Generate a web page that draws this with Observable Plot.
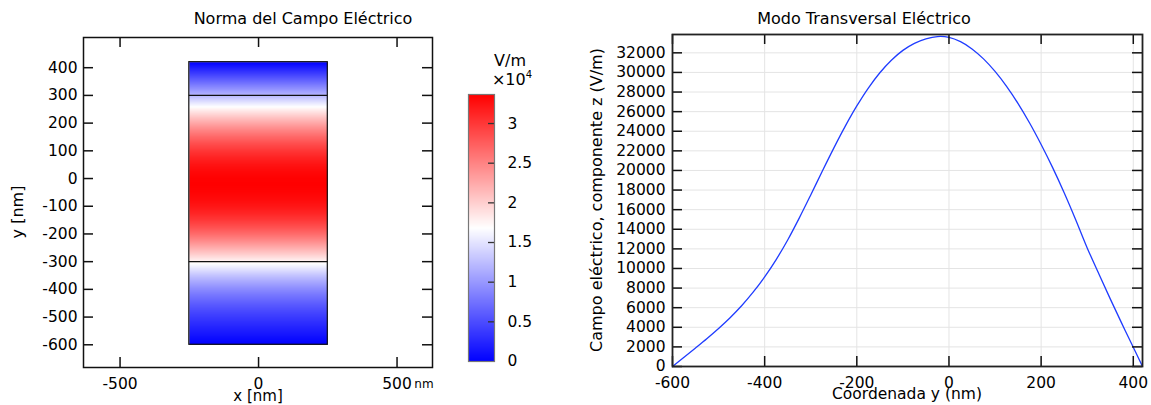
<!DOCTYPE html>
<html><head><meta charset="utf-8">
<script src="https://cdn.jsdelivr.net/npm/d3@7"></script>
<script src="https://cdn.jsdelivr.net/npm/@observablehq/plot@0.6"></script>
<style>
body{margin:0;background:#fff;}
#root{position:relative;width:1151px;height:405px;font-family:"DejaVu Sans",sans-serif;color:#000;overflow:hidden;background:#fff}
.p{position:absolute;top:0}
.t{position:absolute;white-space:nowrap;font-size:16px;line-height:1;transform:translate(-50%,-50%)}
.r{transform:translate(-50%,-50%) rotate(-90deg)}
</style></head><body><div id="root"></div>
<script>
// ---- data ----
const yCoord = [-600,-575,-550,-525,-500,-475,-450,-425,-400,-375,-350,-325,-300,-275,-250,-225,-200,-175,-150,-125,-100,-75,-50,-25,0,25,50,75,100,125,150,175,200,225,250,275,300,325,350,375,400,420];
const ezValues = [0,940,1890,2860,3880,4980,6200,7580,9140,10910,12910,15140,17500,19920,22280,24520,26580,28410,29970,31250,32250,32970,33430,33660,33580,33140,32400,31380,30100,28580,26820,24840,22650,20290,17730,14980,12100,9480,6900,4400,1960,0];
const coreX = [-250, 250];          // waveguide width (nm)
const regionY = [-600, 420];        // waveguide extent (nm)
const interfaceY = [-300, 300];     // layer interfaces (nm)
const leftXTicks = [-500, 0, 500];
const leftYTicks = [-600,-500,-400,-300,-200,-100,0,100,200,300,400];
const rightXTicks = [-600,-400,-200,0,200,400];
const rightYTicks = [0,2000,4000,6000,8000,10000,12000,14000,16000,18000,20000,22000,24000,26000,28000,30000,32000];
const cbTicks = [0,5000,10000,15000,20000,25000,30000];

const vmax = d3.max(ezValues);
const fmt = d => String(d);
const colorScale = {type:"linear", domain:[0, vmax/2, vmax], range:["#0000ff","#ffffff","#ff0000"], clamp:true};
const tickStroke = "#111";

const root = document.getElementById("root");
function place(svg, left){ const d=document.createElement("div"); d.className="p"; d.style.left=left+"px"; d.appendChild(svg); root.appendChild(d); }
function text(html, x, y, cls="", size=16){ const d=document.createElement("div"); d.className="t "+cls; d.style.left=x+"px"; d.style.top=y+"px"; d.style.fontSize=size+"px"; d.innerHTML=html; root.appendChild(d); }

// ---- left: field norm map ----
const pts = [];
yCoord.forEach((y,i)=>{ coreX.forEach(x=>pts.push({x, y, v: ezValues[i]})); });
const lw = 440, lh = 405, lml = 83, lmr = 8, lmt = 37, lmb = 38;
const lfw = lw-lml-lmr, lfh = lh-lmt-lmb;
const fieldMark = Plot.raster
  ? Plot.raster(pts, {x:"x", y:"y", fill:"v", x1:coreX[0], x2:coreX[1], y1:regionY[0], y2:regionY[1], interpolate:"barycentric", pixelSize:1})
  : Plot.rect(yCoord.slice(1).map((y,i)=>({y1:yCoord[i], y2:y, v:(ezValues[i]+ezValues[i+1])/2})), {x1:coreX[0], x2:coreX[1], y1:"y1", y2:"y2", fill:"v"});
const left = Plot.plot({
  width: lw, height: lh, marginLeft: lml, marginRight: lmr, marginTop: lmt, marginBottom: lmb,
  x: {domain:[-632, 628]}, y: {domain:[-682, 509]},
  color: colorScale,
  style: {fontFamily:"DejaVu Sans", fontSize:"15.5px", color:"#000", background:"transparent"},
  marks: [
    fieldMark,
    Plot.rect([0], {x1:coreX[0], x2:coreX[1], y1:regionY[0], y2:regionY[1], fill:"none", stroke:"#111", strokeWidth:1.2}),
    Plot.ruleY(interfaceY, {x1:coreX[0], x2:coreX[1], stroke:"#111", strokeWidth:1.2}),
    Plot.axisX(leftXTicks, {tickSize:0, tickPadding:10, tickFormat:fmt, label:null}),
    Plot.axisY(leftYTicks, {tickSize:0, tickPadding:6, tickFormat:fmt, label:null}),
    Plot.ruleX(leftXTicks, {insetTop: lfh-10, stroke:tickStroke, strokeWidth:1.5}),
    Plot.ruleX(leftXTicks, {insetBottom: lfh-10, stroke:tickStroke, strokeWidth:1.5}),
    Plot.ruleY(leftYTicks, {insetRight: lfw-10, stroke:tickStroke, strokeWidth:1.5}),
    Plot.ruleY(leftYTicks, {insetLeft: lfw-10, stroke:tickStroke, strokeWidth:1.5}),
    Plot.frame({stroke:"#111", strokeWidth:1.5})
  ]
});
place(left, 0);

// ---- colorbar ----
const cb = Plot.plot({
  width: 100, height: 405, marginLeft: 13, marginRight: 61, marginTop: 94, marginBottom: 44,
  x: {domain:[0,1], axis:null}, y: {domain:[0, vmax]},
  color: colorScale,
  style: {fontFamily:"DejaVu Sans", fontSize:"15.5px", color:"#000", background:"transparent"},
  marks: [
    Plot.raster({fill:(x,y)=>y, x1:0, x2:1, y1:0, y2:vmax, pixelSize:1}),
    Plot.ruleY(cbTicks.slice(1), {insetLeft:20, stroke:"#333", strokeWidth:1.3}),
    Plot.axisY(cbTicks, {anchor:"right", tickSize:0, tickPadding:13, tickFormat:d=>String(d/1e4), label:null}),
    Plot.frame({stroke:"#777", strokeWidth:1.2})
  ]
});
place(cb, 455);

// ---- right: Ez profile ----
const rw = 571, rml = 92, rmr = 9, rmt = 34, rmb = 39;
const rfw = rw-rml-rmr, rfh = 405-rmt-rmb;
const right = Plot.plot({
  width: rw, height: 405, marginLeft: rml, marginRight: rmr, marginTop: rmt, marginBottom: rmb,
  x: {domain:[-600, 420]}, y: {domain:[0, 33870]},
  style: {fontFamily:"DejaVu Sans", fontSize:"15.5px", color:"#000", background:"transparent"},
  marks: [
    Plot.ruleX(rightXTicks, {stroke:"#e4e4e4", strokeWidth:1}),
    Plot.ruleY(rightYTicks, {stroke:"#e4e4e4", strokeWidth:1}),
    Plot.line(yCoord, {x:yCoord, y:ezValues, stroke:"#1f3cff", strokeWidth:1.3, curve:"catmull-rom"}),
    Plot.axisX(rightXTicks, {tickSize:0, tickPadding:10, tickFormat:fmt, label:null}),
    Plot.axisY(rightYTicks, {tickSize:0, tickPadding:7, tickFormat:fmt, label:null}),
    Plot.ruleX(rightXTicks, {insetTop: rfh-10, stroke:tickStroke, strokeWidth:1.5}),
    Plot.ruleX(rightXTicks, {insetBottom: rfh-10, stroke:tickStroke, strokeWidth:1.5}),
    Plot.ruleY(rightYTicks, {insetRight: rfw-10, stroke:tickStroke, strokeWidth:1.5}),
    Plot.ruleY(rightYTicks, {insetLeft: rfw-10, stroke:tickStroke, strokeWidth:1.5}),
    Plot.frame({stroke:"#222", strokeWidth:1.8})
  ]
});
place(right, 580);

// ---- texts ----
text("Norma del Campo Eléctrico", 303, 19);
text("Modo Transversal Eléctrico", 864, 19);
text("y [nm]", 18, 212, "r");
text("x [nm]", 258, 396, "", 15);
text("nm", 424, 384, "", 12);
text("V/m", 510, 61);
text("×10<sup style='font-size:10px'>4</sup>", 512, 79);
text("Campo eléctrico, componente z (V/m)", 597, 200, "r");
text("Coordenada y (nm)", 907, 395, "", 15.5);
</script>
</body></html>
